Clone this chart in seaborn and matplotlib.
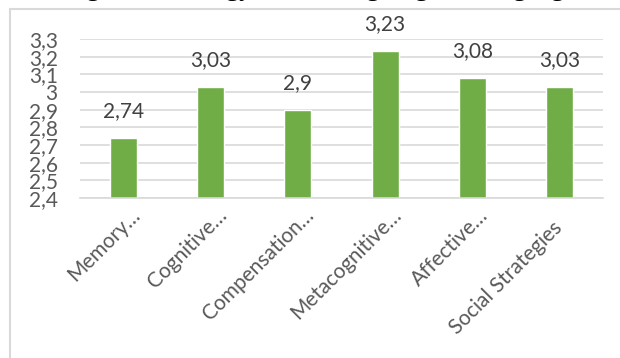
import matplotlib
matplotlib.use("Agg")
import matplotlib.pyplot as plt
import matplotlib.transforms as mtransforms
from matplotlib.patches import Rectangle
import seaborn as sns

categories = ["Memory…", "Cognitive…", "Compensation…", "Metacognitive…",
              "Affective…", "Social Strategies"]
values = [2.74, 3.03, 2.90, 3.23, 3.08, 3.03]
y_ticks = [2.4, 2.5, 2.6, 2.7, 2.8, 2.9, 3.0, 3.1, 3.2, 3.3]
title = "The Mean of Using Each Strategy in Learning English Language"


def comma(v):
    return f"{v:g}".replace(".", ",")


sns.set_theme(style="white")
plt.rcParams["font.family"] = ["Lato", "DejaVu Sans"]

fig = plt.figure(figsize=(6.2, 3.58), dpi=100)
ax = fig.add_axes([80 / 620, 1 - 198 / 358, (603 - 80) / 620, 159 / 358])

sns.barplot(x=categories, y=values, color="#70ad47", saturation=1,
            width=0.31, ax=ax)

ax.set_ylim(y_ticks[0], y_ticks[-1])
ax.set_yticks(y_ticks)
ax.set_yticklabels([comma(t) for t in y_ticks], fontsize=15, color="#595959")
ax.yaxis.grid(True, color="#d9d9d9", linewidth=1.2)
ax.set_axisbelow(True)
for side in ["left", "right", "top"]:
    ax.spines[side].set_visible(False)
ax.spines["bottom"].set_color("#d9d9d9")
ax.spines["bottom"].set_linewidth(1.2)
ax.tick_params(axis="both", length=0)
ax.tick_params(axis="y", pad=16)
ax.set_xlabel("")
ax.set_ylabel("")

ax.set_xticks(range(len(categories)))
ax.set_xticklabels(categories, rotation=45, ha="right", va="top",
                   rotation_mode="anchor", fontsize=15, color="#595959")
xlabels = ax.get_xticklabels()
for lbl in xlabels:
    shift = mtransforms.ScaledTranslation(6 / 100, -2 / 100, fig.dpi_scale_trans)
    lbl.set_transform(lbl.get_transform() + shift)
# the untruncated last label sits a little further down the diagonal
xlabels[-1].set_transform(xlabels[-1].get_transform() + mtransforms.ScaledTranslation(
    -13 / 100, -13 / 100, fig.dpi_scale_trans))

for i, v in enumerate(values):
    ax.annotate(comma(v), xy=(i, v), xytext=(0, 15), textcoords="offset points",
                ha="center", va="baseline", fontsize=15, color="#404040")

# chart area frame
fig.patches.append(Rectangle((10 / 620, -0.1), 1.2, 1 - 9 / 358 + 0.1,
                             transform=fig.transFigure, fill=False,
                             edgecolor="#d9d9d9", linewidth=1.5))

# caption line above the chart, mostly outside the image
fig.text(-104 / 620, 1 + 3.5 / 358, title, ha="left", va="baseline",
         fontsize=18.8, color="black", family=["Liberation Serif"])

fig.savefig("out.png", dpi=100)
